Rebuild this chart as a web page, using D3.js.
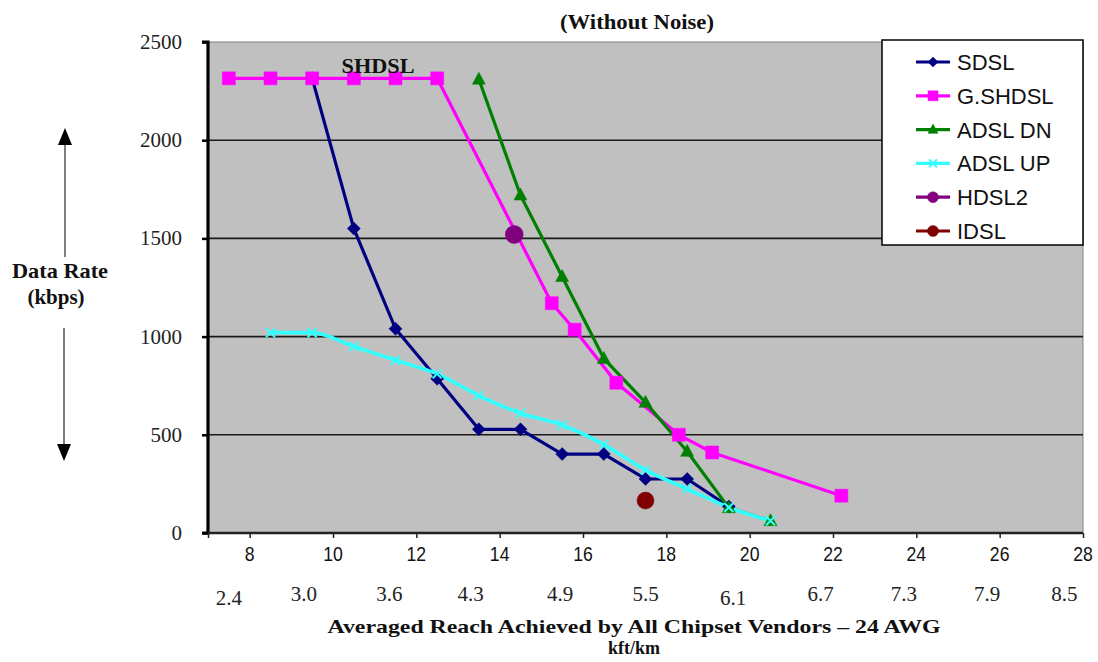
<!DOCTYPE html>
<html>
<head>
<meta charset="utf-8">
<script src="https://cdn.jsdelivr.net/npm/d3@7"></script>
<style>
  body { margin: 0; background: #fff; }
  svg { display: block; }
  .serif { font-family: "Liberation Serif", "Times New Roman", serif; }
  .sans { font-family: "Liberation Sans", Arial, sans-serif; }
</style>
</head>
<body>
<svg id="chart" width="1098" height="662"></svg>
<script>
// ---- data (kft, kbps) ----
const xTicks = [8, 10, 12, 14, 16, 18, 20, 22, 24, 26, 28];
const yTicks = [0, 500, 1000, 1500, 2000, 2500];
const kmLabels = ["2.4", "3.0", "3.6", "4.3", "4.9", "5.5", "6.1", "6.7", "7.3", "7.9", "8.5"];
const kmAt = [7.5, 9.3, 11.35, 13.3, 15.45, 17.5, 19.6, 21.7, 23.7, 25.7, 27.55];

const sdslX = [9.5, 10.5, 11.5, 12.5, 13.5, 14.5, 15.5, 16.5, 17.5, 18.5, 19.5];
const sdslY = [2315, 1550, 1040, 785, 528, 528, 402, 402, 275, 275, 135];

const gshdslX = [7.5, 8.5, 9.5, 10.5, 11.5, 12.5, 15.25, 15.8, 16.8, 18.3, 19.1, 22.2];
const gshdslY = [2315, 2315, 2315, 2315, 2315, 2315, 1170, 1035, 765, 500, 410, 190];

const adslDnX = [13.5, 14.5, 15.5, 16.5, 17.5, 18.5, 19.5, 20.5];
const adslDnY = [2310, 1720, 1305, 888, 665, 415, 128, 62];

const adslUpX = [8.5, 9.5, 10.5, 11.5, 12.5, 13.5, 14.5, 15.5, 16.5, 17.5, 18.5, 19.5, 20.5];
const adslUpY = [1020, 1020, 950, 880, 810, 700, 610, 550, 450, 320, 225, 130, 62];

const hdsl2X = [14.35];
const hdsl2Y = [1520];

const idslX = [17.5];
const idslY = [165];

const seriesNames = ["SDSL", "G.SHDSL", "ADSL DN", "ADSL UP", "HDSL2", "IDSL"];

// ---- layout ----
const svg = d3.select("#chart");
const plot = { left: 208, right: 1083, top: 42, bottom: 533 };

const x = d3.scaleLinear().domain([7, 28]).range([plot.left, plot.right]);
const y = d3.scaleLinear().domain([0, 2500]).range([plot.bottom, plot.top]);

// custom marker shapes
const diamond = { draw(ctx, s) { ctx.moveTo(0, -s); ctx.lineTo(s, 0); ctx.lineTo(0, s); ctx.lineTo(-s, 0); ctx.closePath(); } };
const square = { draw(ctx, s) { ctx.rect(-s, -s, 2 * s, 2 * s); } };
const triangle = { draw(ctx, s) { ctx.moveTo(0, -s * 1.1); ctx.lineTo(s, s * 0.75); ctx.lineTo(-s, s * 0.75); ctx.closePath(); } };
const cross = { draw(ctx, s) { ctx.moveTo(-s, -s); ctx.lineTo(s, s); ctx.moveTo(s, -s); ctx.lineTo(-s, s); } };
const circle = { draw(ctx, s) { ctx.moveTo(s, 0); ctx.arc(0, 0, s, 0, 2 * Math.PI); } };

const series = [
  { name: seriesNames[0], xs: sdslX, ys: sdslY, color: "#000080", shape: diamond, size: 6.5, line: true },
  { name: seriesNames[1], xs: gshdslX, ys: gshdslY, color: "#ff00ff", shape: square, size: 6.5, line: true },
  { name: seriesNames[2], xs: adslDnX, ys: adslDnY, color: "#008000", shape: triangle, size: 6.5, line: true },
  { name: seriesNames[3], xs: adslUpX, ys: adslUpY, color: "#33ffff", shape: cross, size: 4.5, line: true, stroke: true, smooth: true },
  { name: seriesNames[4], xs: hdsl2X, ys: hdsl2Y, color: "#800080", shape: circle, size: 9, line: false },
  { name: seriesNames[5], xs: idslX, ys: idslY, color: "#800000", shape: circle, size: 8.5, line: false }
];

// plot background
svg.append("rect")
  .attr("x", plot.left).attr("y", plot.top)
  .attr("width", plot.right - plot.left).attr("height", plot.bottom - plot.top)
  .attr("fill", "#c0c0c0").attr("stroke", "#808080").attr("stroke-width", 1);

// horizontal grid lines
svg.append("g").selectAll("line")
  .data(yTicks.filter(d => d > 0 && d < 2500))
  .enter().append("line")
  .attr("x1", plot.left).attr("x2", plot.right)
  .attr("y1", d => y(d)).attr("y2", d => y(d))
  .attr("stroke", "#1a1a1a").attr("stroke-width", 1.6);

// y axis
const yAxis = svg.append("g")
  .attr("transform", `translate(${plot.left},0)`)
  .call(d3.axisLeft(y).tickValues(yTicks).tickSize(6).tickFormat(""));
yAxis.select(".domain").attr("stroke", "#000").attr("stroke-width", 3.2).attr("d", `M-6,${plot.top}H0V${plot.bottom}H-6`);
yAxis.selectAll(".tick line").attr("stroke", "#000").attr("stroke-width", 2.5);

svg.append("g").selectAll("text")
  .data(yTicks).enter().append("text")
  .attr("class", "serif")
  .attr("x", 182).attr("y", d => y(d) + 7)
  .attr("text-anchor", "end")
  .attr("font-size", 21).attr("fill", "#222")
  .text(d => d);

// x axis
const xAxis = svg.append("g")
  .attr("transform", `translate(0,${plot.bottom})`)
  .call(d3.axisBottom(x).tickValues(xTicks.concat([7])).tickSize(5).tickFormat(""));
xAxis.select(".domain").attr("stroke", "#222").attr("stroke-width", 2.5).attr("d", `M${plot.left},0H${plot.right}`);
xAxis.selectAll(".tick line").attr("stroke", "#222").attr("stroke-width", 1.5);

svg.append("g").selectAll("text")
  .data(xTicks).enter().append("text")
  .attr("class", "sans")
  .attr("x", d => x(d)).attr("y", 561)
  .attr("text-anchor", "middle")
  .attr("font-size", 21).attr("fill", "#111")
  .attr("textLength", d => String(d).length * 9.8).attr("lengthAdjust", "spacingAndGlyphs")
  .text(d => d);

svg.append("g").selectAll("text")
  .data(kmLabels).enter().append("text")
  .attr("class", "serif")
  .attr("x", (d, i) => x(kmAt[i])).attr("y", d => (d === "2.4" || d === "6.1") ? 605 : 601)
  .attr("text-anchor", "middle")
  .attr("font-size", 21).attr("fill", "#222")
  .text(d => d);

// lines
const line = d3.line().x(d => x(d[0])).y(d => y(d[1]));
series.filter(s => s.line).forEach(s => {
  const pts = s.xs.map((v, i) => [v, s.ys[i]]);
  svg.append("path")
    .datum(pts)
    .attr("d", s.smooth ? line.curve(d3.curveMonotoneX)(pts) : line.curve(d3.curveLinear)(pts))
    .attr("fill", "none")
    .attr("stroke", s.color)
    .attr("stroke-width", s.smooth ? 3.6 : 3.2)
    .attr("stroke-linejoin", "round");
});

// markers
series.forEach(s => {
  svg.append("g").selectAll("path")
    .data(s.xs.map((v, i) => [v, s.ys[i]]))
    .enter().append("path")
    .attr("transform", d => `translate(${x(d[0])},${y(d[1])})`)
    .attr("d", d3.symbol().type(s.shape).size(s.size))
    .attr("fill", s.stroke ? "none" : s.color)
    .attr("stroke", s.color)
    .attr("stroke-width", s.stroke ? 2 : 0.5);
});

// SHDSL annotation
svg.append("text")
  .attr("class", "serif")
  .attr("x", 378).attr("y", 73)
  .attr("text-anchor", "middle")
  .attr("font-size", 21).attr("font-weight", "bold").attr("fill", "#111")
  .attr("textLength", 73).attr("lengthAdjust", "spacingAndGlyphs")
  .text("SHDSL");

// title
svg.append("text")
  .attr("class", "serif")
  .attr("x", 637).attr("y", 29)
  .attr("text-anchor", "middle")
  .attr("font-size", 20).attr("font-weight", "bold").attr("fill", "#111")
  .attr("textLength", 154).attr("lengthAdjust", "spacingAndGlyphs")
  .text("(Without Noise)");

// x axis titles
svg.append("text")
  .attr("class", "serif")
  .attr("x", 634).attr("y", 633)
  .attr("text-anchor", "middle")
  .attr("font-size", 19).attr("font-weight", "bold").attr("fill", "#111")
  .attr("textLength", 613).attr("lengthAdjust", "spacingAndGlyphs")
  .text("Averaged Reach Achieved by All Chipset Vendors \u2013 24 AWG");
svg.append("text")
  .attr("class", "serif")
  .attr("x", 634).attr("y", 654)
  .attr("text-anchor", "middle")
  .attr("font-size", 18).attr("font-weight", "bold").attr("fill", "#111")
  .text("kft/km");

// y axis title with arrows
svg.append("text")
  .attr("class", "serif")
  .attr("x", 60).attr("y", 278)
  .attr("text-anchor", "middle")
  .attr("font-size", 21).attr("font-weight", "bold").attr("fill", "#111")
  .attr("textLength", 96).attr("lengthAdjust", "spacingAndGlyphs")
  .text("Data Rate");
svg.append("text")
  .attr("class", "serif")
  .attr("x", 56).attr("y", 304)
  .attr("text-anchor", "middle")
  .attr("font-size", 21).attr("font-weight", "bold").attr("fill", "#111")
  .text("(kbps)");

const arrows = svg.append("g").attr("stroke", "#555").attr("stroke-width", 1.5);
arrows.append("line").attr("x1", 65).attr("x2", 65).attr("y1", 257).attr("y2", 140);
arrows.append("line").attr("x1", 64).attr("x2", 64).attr("y1", 328).attr("y2", 448);
svg.append("path").attr("d", "M65,128L72,145L58,145Z").attr("fill", "#000");
svg.append("path").attr("d", "M64,461L71,444L57,444Z").attr("fill", "#000");

// legend
const legend = svg.append("g").attr("transform", "translate(882,40)");
legend.append("rect")
  .attr("width", 201).attr("height", 205)
  .attr("fill", "#fff").attr("stroke", "#000").attr("stroke-width", 1.5);
const items = legend.selectAll(".item")
  .data(series).enter().append("g")
  .attr("class", "item")
  .attr("transform", (d, i) => `translate(0,${22 + i * 33.8})`);
items.append("line")
  .attr("x1", 34).attr("x2", 68)
  .attr("stroke", d => d.color).attr("stroke-width", 3.2);
items.append("path")
  .attr("transform", "translate(51,0)")
  .attr("d", d => d3.symbol().type(d.shape).size(d.stroke ? 4 : (d.shape === circle ? 5.5 : 5))())
  .attr("fill", d => d.stroke ? "none" : d.color)
  .attr("stroke", d => d.color)
  .attr("stroke-width", d => d.stroke ? 2 : 0.5);
items.append("text")
  .attr("class", "sans")
  .attr("x", 75).attr("y", 8)
  .attr("font-size", 22).attr("fill", "#111")
  .text(d => d.name);
</script>
</body>
</html>
